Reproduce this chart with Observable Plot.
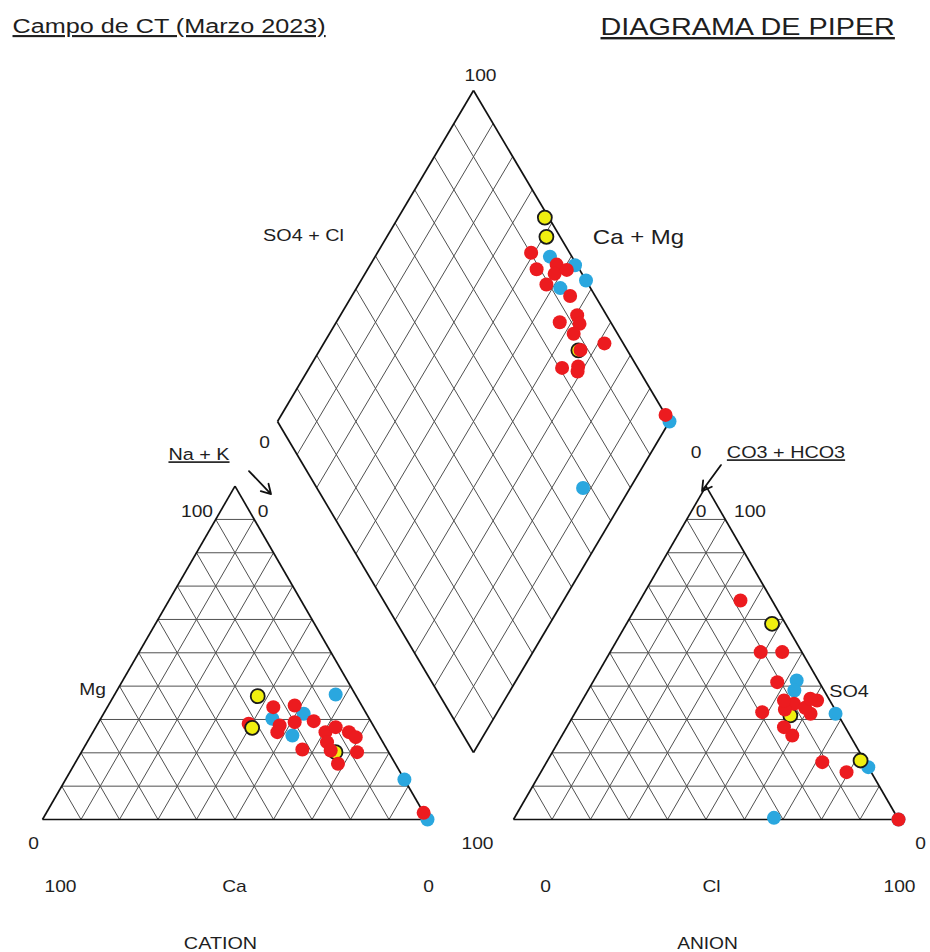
<!DOCTYPE html>
<html>
<head>
<meta charset="utf-8">
<script src="https://cdn.jsdelivr.net/npm/d3@7"></script>
<script src="https://cdn.jsdelivr.net/npm/@observablehq/plot@0.6"></script>
<style>
  body { margin: 0; background: #fff; }
  #chart svg { display: block; }
</style>
</head>
<body>
<div id="chart"></div>
<script>
// ---------------- DATA (percent meq/L) ----------------
// draw order of the samples
const grupo = ["G3","G2","G2","G2","G2","G2","G2",
  "G1","G1","G1","G1","G1","G1","G1","G1","G1","G1","G1","G1","G1","G1","G1","G1","G1",
  "G3","G3"];
// cations
const ca  = [13.8, 25.2, 16.3, 22.5, 5.1, 0, 0, 32.1, 23.2, 24.3, 25.9, 17.4, 19.9, 14.8, 22.0, 13.4, 10.0, 14.5, 14.8, 7.3, 14.9, 6.3, 8.2, 0, 25.6, 31.8];
const mg  = [20.2, 30.2, 31.7, 25.2, 37.5, 0, 12.0, 28.7, 33.7, 28.2, 26.2, 34.2, 29.2, 29.5, 21.0, 26.2, 27.7, 23.2, 20.7, 26.2, 16.7, 24.7, 20.2, 2.0, 37.0, 27.5];
const nak = [66.0, 44.6, 52.0, 52.3, 57.4, 100, 88.0, 39.2, 43.1, 47.5, 47.9, 48.4, 50.9, 55.7, 57.0, 60.4, 62.3, 62.3, 64.5, 66.5, 68.4, 69.0, 71.6, 98.0, 37.4, 40.7];
// anions
const cl   = [56.3, 52.7, 53.6, 67.8, 84.3, 100, 67.4, 55.5, 47.9, 44.7, 39.1, 61.3, 61.0, 79.4, 54.0, 59.0, 26.1, 71.6, 48.5, 52.4, 59.8, 56.4, 59.0, 100, 81.3, 37.8];
const so4  = [31.2, 41.7, 38.7, 31.7, 15.7, 0, 0.5, 34.7, 41.2, 50.2, 50.2, 31.7, 35.7, 14.2, 33.0, 33.5, 65.7, 17.2, 32.2, 35.7, 25.2, 27.7, 36.2, 0, 17.7, 58.7];
const hco3 = [12.5, 5.6, 7.7, 0.5, 0, 0, 32.1, 9.8, 10.9, 5.1, 10.7, 7.0, 3.3, 6.4, 13.0, 7.5, 8.2, 11.2, 19.3, 11.9, 15.0, 15.9, 4.8, 0, 1.0, 3.5];

// grid ticks (percent)
const gridTicks = [10, 20, 30, 40, 50, 60, 70, 80, 90];

// texts
const tituloIzq = "Campo de CT (Marzo 2023)";
const tituloDer = "DIAGRAMA DE PIPER";
const ejeCation = ["100", "Ca", "0"];
const ejeAnion = ["0", "Cl", "100"];
const nombres = {cation: "CATION", anion: "ANION", nak: "Na + K", mg: "Mg", hco3: "CO3 + HCO3", so4: "SO4", so4cl: "SO4 + Cl", camg: "Ca + Mg"};

// ---------------- STYLE / LAYOUT ----------------
const colores = {G1: "#ec1b1f", G2: "#2aa7df", G3: "#f0ef10"};
const bordes  = {G1: "none", G2: "none", G3: "#1a1a1a"};
const W = 930, H = 952;
const S = 385, HT = S * Math.sqrt(3) / 2;
const CAT = {x0: 42, y0: 819};
const AN  = {x0: 513, y0: 819};
const DB = [473, 752], DL = [277, 421], DR = [669, 421];

// a = fraction toward bottom-right corner, t = fraction toward apex
function tri(o, a, t) { return [o.x0 + S * (a + t / 2), o.y0 - HT * t]; }
// p = Ca+Mg fraction, q = SO4+Cl fraction
function dia(p, q) {
  return [DB[0] + p * (DL[0] - DB[0]) + q * (DR[0] - DB[0]),
          DB[1] + p * (DL[1] - DB[1]) + q * (DR[1] - DB[1])];
}
const DT = dia(1, 1);

// points
const pts = [];
grupo.forEach((g, i) => {
  const c = tri(CAT, nak[i] / 100, mg[i] / 100);
  const a = tri(AN, cl[i] / 100, so4[i] / 100);
  const d = dia((ca[i] + mg[i]) / 100, (cl[i] + so4[i]) / 100);
  pts.push({g, x: c[0], y: c[1]}, {g, x: a[0], y: a[1]}, {g, x: d[0], y: d[1]});
});

// grids
function triGrid(o) {
  const segs = [];
  for (const v of gridTicks) {
    const k = v / 100;
    segs.push([tri(o, 0, k), tri(o, 1 - k, k)]);
    segs.push([tri(o, k, 0), tri(o, k, 1 - k)]);
    segs.push([tri(o, 1 - k, 0), tri(o, 0, 1 - k)]);
  }
  return segs;
}
function triEdges(o) {
  const A = tri(o, 0, 0), B = tri(o, 1, 0), C = tri(o, 0, 1);
  return [[A, B], [B, C], [C, A]];
}
const diaGrid = [];
for (const v of gridTicks) {
  const k = v / 100;
  diaGrid.push([dia(k, 0), dia(k, 1)]);
  diaGrid.push([dia(0, k), dia(1, k)]);
}
const diaEdges = [[dia(0,0), dia(1,0)], [dia(1,0), dia(1,1)], [dia(1,1), dia(0,1)], [dia(0,1), dia(0,0)]];
const gridSegs = [...triGrid(CAT), ...triGrid(AN), ...diaGrid];
const edgeSegs = [...triEdges(CAT), ...triEdges(AN), ...diaEdges];

// label anchors
const CA_ = tri(CAT, 0, 1), CBL = tri(CAT, 0, 0), CBR = tri(CAT, 1, 0);
const AA_ = tri(AN, 0, 1), ABL = tri(AN, 0, 0), ABR = tri(AN, 1, 0);
function at(p, dx, dy) { return [p[0] + dx, p[1] + dy]; }
const lab = (text, p, size, anchor = "middle") => ({text, x: p[0], y: p[1], size, anchor});
const labels = [
  lab(tituloIzq, [12, 26], 21, "start"),
  lab(tituloDer, [600, 27], 24, "start"),
  lab("100", at(DT, 7, -15), 16),
  lab(nombres.so4cl, at(DL, 26, -186), 16.5),
  lab(nombres.camg, at(DR, -31, -184), 20),
  lab("0", at(DL, -13, 21), 16),
  lab(nombres.nak, at(CA_, -36, -31), 16.5),
  lab("100", at(CA_, -38, 26), 16),
  lab("0", at(CA_, 28, 26), 16),
  lab(nombres.mg, at(CBL, 50, -130), 16),
  lab("0", at(CBL, -9, 24), 16),
  lab(ejeCation[0], at(CBL, 18, 67), 16),
  lab(ejeCation[1], at(CBL, 192, 67), 16),
  lab(ejeCation[2], at(CBR, 1, 67), 16),
  lab(nombres.cation, at(CBL, 178, 124), 16.5),
  lab("100", at(DB, 4, 91), 16),
  lab("0", at(ABR, 22, 24), 16),
  lab(ejeAnion[0], at(ABL, 32, 67), 16),
  lab(ejeAnion[1], at(ABL, 198, 67), 16),
  lab(ejeAnion[2], at(ABR, 1, 67), 16),
  lab(nombres.anion, at(ABL, 194, 124), 16),
  lab("0", at(AA_, -10, -33), 16),
  lab(nombres.hco3, at(AA_, 80, -33), 16.5),
  lab("0", at(AA_, -5, 26), 16),
  lab("100", at(AA_, 44, 26), 16),
  lab(nombres.so4, at(AA_, 143, 206), 16.5)
];
const underlined = new Set([tituloIzq, tituloDer, nombres.nak, nombres.hco3]);

const arrows = [
  {a: at(CA_, 14, -15), b: at(CA_, 36, 8)},
  {a: at(AA_, 15, -21), b: at(AA_, -4, 5)}
];

const textMark = (anchor) => Plot.text(labels.filter(d => d.anchor === anchor), {
  x: "x", y: "y", text: "text", fontSize: "size", textAnchor: anchor, fill: "#1e1e1e"
});

const chart = Plot.plot({
  width: W, height: H, margin: 0,
  x: {domain: [0, W], range: [0, W], axis: null},
  y: {domain: [0, H], range: [0, H], axis: null},
  color: {type: "identity"},
  style: {fontFamily: "'Liberation Sans', Arial, sans-serif", background: "#fff"},
  marks: [
    Plot.link(gridSegs, {x1: d => d[0][0], y1: d => d[0][1], x2: d => d[1][0], y2: d => d[1][1], stroke: "#505050", strokeWidth: 1}),
    Plot.link(edgeSegs, {x1: d => d[0][0], y1: d => d[0][1], x2: d => d[1][0], y2: d => d[1][1], stroke: "#111", strokeWidth: 1.7}),
    Plot.arrow(arrows, {x1: d => d.a[0], y1: d => d.a[1], x2: d => d.b[0], y2: d => d.b[1], stroke: "#111", strokeWidth: 1.8, headLength: 10}),
    Plot.dot(pts, {x: "x", y: "y", r: 7, fill: d => colores[d.g], stroke: d => bordes[d.g], strokeWidth: 1.8}),
    textMark("middle"),
    textMark("start")
  ]
});

// horizontal stretch of text + underline
d3.select(chart).selectAll("text").each(function () {
  const t = this.getAttribute("transform");
  if (t) {
    this.setAttribute("transform", t + " scale(1.2,1)");
  } else {
    const x = +this.getAttribute("x") || 0, y = +this.getAttribute("y") || 0;
    this.removeAttribute("x"); this.removeAttribute("y");
    this.setAttribute("transform", `translate(${x},${y}) scale(1.2,1)`);
  }
  if (underlined.has(this.textContent)) this.style.textDecoration = "underline";
});

document.getElementById("chart").appendChild(chart);
</script>
</body>
</html>
